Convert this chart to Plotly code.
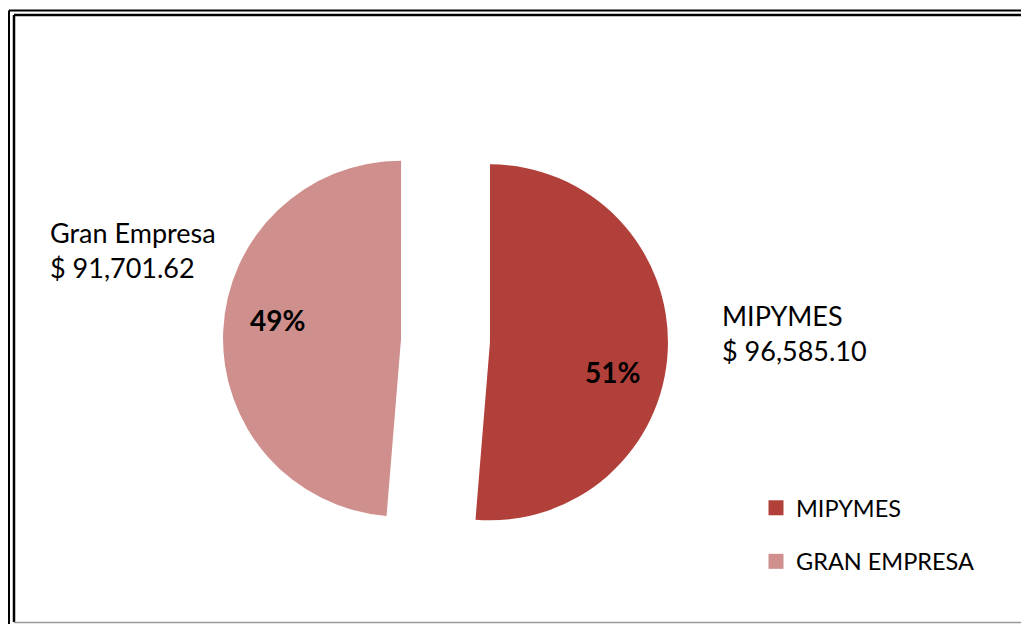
import plotly.graph_objects as go

categories = ["MIPYMES", "GRAN EMPRESA"]
label_names = ["MIPYMES", "Gran Empresa"]
values = [96585.10, 91701.62]
colors = ["#b2403a", "#cf8f8c"]

W, H = 1029, 624
OFF = 8  # page body margin offset


def px(x):
    return (x - OFF) / W


def py(y):
    return 1 - (y - OFF) / H


total = sum(values)

fig = go.Figure()

fig.add_trace(go.Pie(
    labels=categories,
    values=values,
    sort=False,
    direction="clockwise",
    rotation=0,
    pull=[0.25, 0.25],
    marker=dict(colors=colors, line=dict(width=0)),
    textinfo="none",
    hoverinfo="label+value+percent",
    showlegend=False,
    domain=dict(x=[px(223), px(668)], y=[py(563), py(118)]),
))

# legend entries
for name, col in zip(categories, colors):
    fig.add_trace(go.Scatter(
        x=[None], y=[None], mode="markers", name=name, legendgroup=name,
        marker=dict(symbol="square", size=15, color=col),
        showlegend=True,
    ))

annotations = []
# data labels (category + value) outside the slices
label_pos = {"Gran Empresa": (48, 214), "MIPYMES": (720, 297)}
for name, v in zip(label_names, values):
    x0, y0 = label_pos[name]
    annotations.append(dict(
        text=f"{name}<br>$ {v:,.2f}",
        x=px(x0), y=py(y0), xref="paper", yref="paper",
        xanchor="left", yanchor="top", align="left", showarrow=False,
        font=dict(family="Lato", size=27, color="black"),
    ))

# percentage labels inside the slices
pct_pos = {"MIPYMES": (612, 372), "Gran Empresa": (277, 320)}
for name, v in zip(label_names, values):
    x0, y0 = pct_pos[name]
    annotations.append(dict(
        text=f"<b>{v / total:.0%}</b>",
        x=px(x0), y=py(y0), xref="paper", yref="paper",
        xanchor="center", yanchor="middle", showarrow=False,
        font=dict(family="Lato", size=28, color="black"),
    ))

shapes = [
    # outer frame lines
    dict(type="line", xref="paper", yref="paper", x0=px(9), x1=1.02, y0=py(10.5), y1=py(10.5),
         line=dict(color="black", width=2)),
    dict(type="line", xref="paper", yref="paper", x0=px(9), x1=px(9), y0=py(10.5), y1=-0.02,
         line=dict(color="black", width=2)),
    # inner frame lines
    dict(type="line", xref="paper", yref="paper", x0=px(14), x1=1.02, y0=py(15), y1=py(15),
         line=dict(color="black", width=2.5)),
    dict(type="line", xref="paper", yref="paper", x0=px(14), x1=px(14), y0=py(15), y1=py(622),
         line=dict(color="black", width=2.5)),
    dict(type="line", xref="paper", yref="paper", x0=px(14), x1=1.02, y0=py(622.5), y1=py(622.5),
         line=dict(color="#999999", width=1.5)),
]

fig.update_layout(
    width=W, height=H,
    margin=dict(l=0, r=0, t=0, b=0),
    paper_bgcolor="white", plot_bgcolor="white",
    xaxis=dict(visible=False), yaxis=dict(visible=False),
    legend=dict(
        x=px(756), y=py(486), xanchor="left", yanchor="top",
        font=dict(family="Lato", size=23.5, color="black"),
        tracegroupgap=20, bgcolor="rgba(0,0,0,0)",
    ),
    annotations=annotations,
    shapes=shapes,
)

fig.write_html("out.html")
